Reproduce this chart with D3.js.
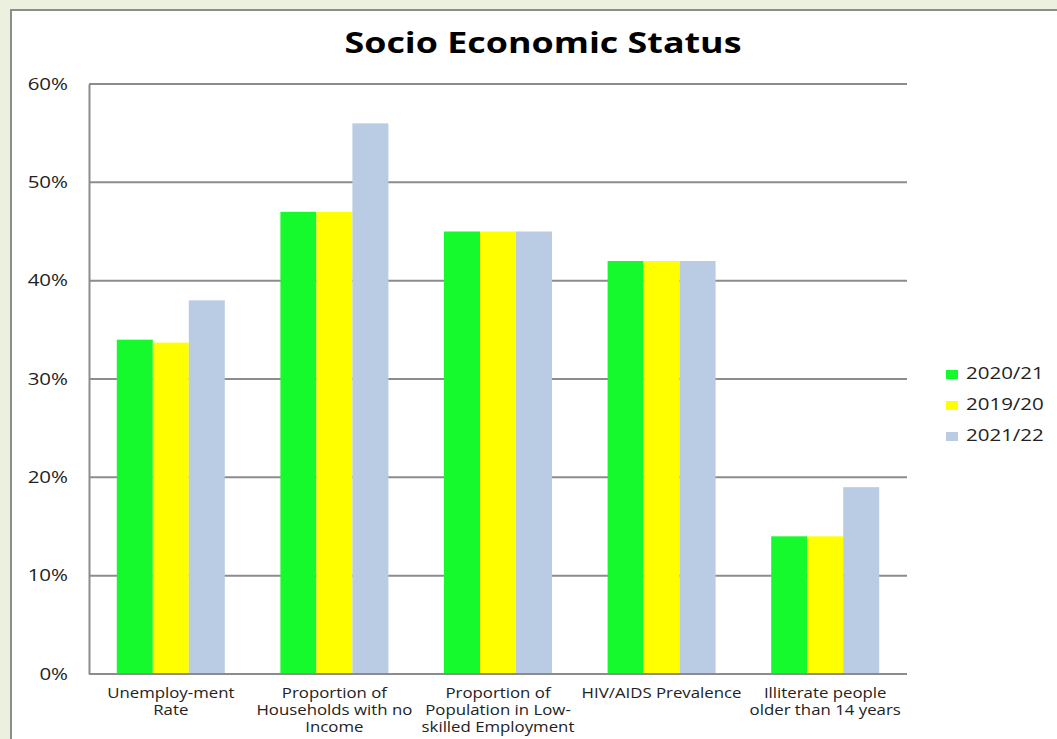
<!DOCTYPE html>
<html><head><meta charset="utf-8">
<script src="https://cdn.jsdelivr.net/npm/d3@7"></script>
<style>
html,body{margin:0;padding:0;background:#ebf1de;}
svg{display:block;}
</style></head>
<body>
<svg id="c" width="1057" height="739"></svg>
<script>
const categories = [
  ["Unemploy-ment","Rate"],
  ["Proportion of","Households with no","Income"],
  ["Proportion of","Population in Low-","skilled Employment"],
  ["HIV/AIDS Prevalence"],
  ["Illiterate people","older than 14 years"]
];
const seriesNames = ["2020/21","2019/20","2021/22"];
const seriesColors = ["#14fa2c","#ffff00","#b9cce4"];
const s2020 = [0.34,0.47,0.45,0.42,0.14];
const s2019 = [0.337,0.47,0.45,0.42,0.14];
const s2021 = [0.38,0.56,0.45,0.42,0.19];
const yTicks = [0,0.1,0.2,0.3,0.4,0.5,0.6];
const series = [s2020,s2019,s2021];

const svg = d3.select("#c");
const font = "'Open Sans', 'DejaVu Sans', sans-serif";

function stretch(sel, f){
  sel.each(function(){
    const w = this.getComputedTextLength();
    d3.select(this).attr("textLength", w*f).attr("lengthAdjust","spacingAndGlyphs");
  });
}

// chart box
svg.append("rect").attr("x",11).attr("y",10).attr("width",1060).attr("height",740)
  .attr("fill","#fff").attr("stroke","#8c8c8c").attr("stroke-width",2);

const L=89, R=907, T=84, B=674;
const x = d3.scaleBand().domain(d3.range(categories.length)).range([L,R]).paddingInner(0).paddingOuter(0);
const x1 = d3.scaleBand().domain(d3.range(series.length)).range([0, 108]);
const y = d3.scaleLinear().domain([0,0.6]).range([B,T]);

// gridlines
svg.append("g").selectAll("line").data(yTicks.filter(d=>d>0)).join("line")
  .attr("x1",L).attr("x2",R).attr("y1",d=>y(d)).attr("y2",d=>y(d))
  .attr("stroke","#8c8c8c").attr("stroke-width",2);

// y axis
const ya = svg.append("g").attr("transform",`translate(${L},0)`)
  .call(d3.axisLeft(y).tickValues(yTicks).tickFormat(d3.format(".0%")).tickSize(0).tickPadding(21));
ya.select(".domain").attr("stroke","#8c8c8c").attr("stroke-width",2);
ya.selectAll("text").attr("font-family",font).attr("font-size",16).attr("fill","#222");
stretch(ya.selectAll("text"),1.28);

// bars
const offset = (x.bandwidth()-108)/2;
series.forEach((s,si)=>{
  svg.append("g").selectAll("rect").data(s).join("rect")
    .attr("x",(d,i)=>x(i)+offset+x1(si))
    .attr("width",x1.bandwidth())
    .attr("y",d=>y(d))
    .attr("height",d=>B-y(d))
    .attr("fill",seriesColors[si]);
});

// x axis
svg.append("line").attr("x1",L).attr("x2",R).attr("y1",B).attr("y2",B)
  .attr("stroke","#8c8c8c").attr("stroke-width",2);

// category labels
const cl = svg.append("g");
categories.forEach((lines,i)=>{
  lines.forEach((ln,k)=>{
    cl.append("text").attr("text-anchor","middle")
      .attr("font-family",font).attr("font-size",14).attr("fill","#222")
      .attr("x",x(i)+x.bandwidth()/2).attr("y",698+k*17).text(ln);
  });
});
stretch(cl.selectAll("text"),1.2);

// title
const title = svg.append("text").attr("x",543).attr("y",53).attr("text-anchor","middle")
  .attr("font-family",font).attr("font-weight","bold").attr("font-size",28).attr("fill","#000")
  .text("Socio Economic Status");
stretch(title,1.28);

// legend
const lg = svg.append("g");
seriesNames.forEach((n,i)=>{
  const yy = 374 + i*31;
  lg.append("rect").attr("x",946).attr("y",yy-4).attr("width",12).attr("height",9).attr("fill",seriesColors[i]);
  lg.append("text").attr("x",966).attr("y",yy+5).attr("font-family",font).attr("font-size",16).attr("fill","#222").text(n);
});
stretch(lg.selectAll("text"),1.28);
</script>
</body></html>
